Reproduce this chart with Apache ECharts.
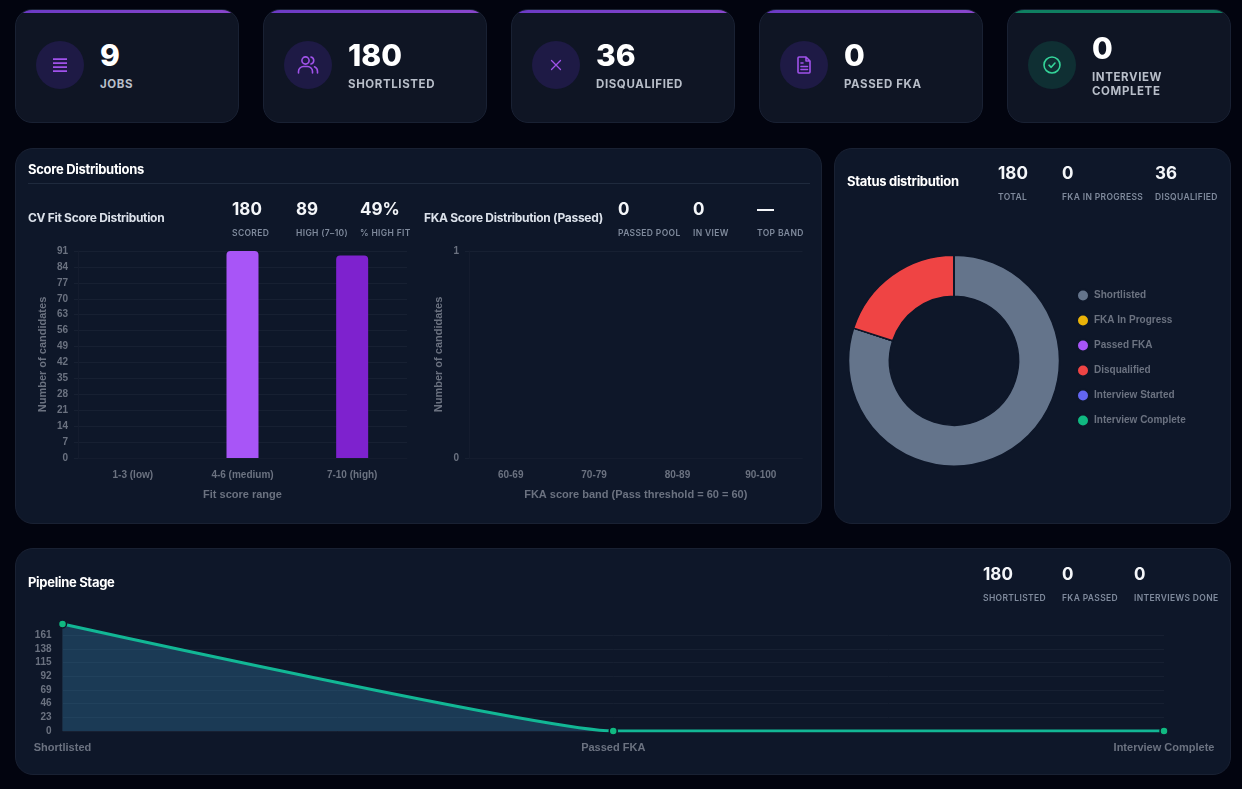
<!DOCTYPE html>
<html>
<head>
<meta charset="utf-8">
<title>Recruitment dashboard</title>
<script src="https://cdn.jsdelivr.net/npm/echarts@6/dist/echarts.min.js"></script>
<style>
  html, body { margin: 0; padding: 0; background: #02040f; }
  body { width: 1242px; height: 789px; position: relative; overflow: hidden; font-family: Inter, sans-serif; }
  .card, .panel { position: absolute; box-sizing: border-box; border: 1px solid #192133; }
  .card { top: 9px; width: 224px; height: 114px; border-radius: 17px; background: #0f1524; overflow: hidden; }
  .card .strip { position: absolute; left: 0; right: 0; top: 0; height: 3px; background: linear-gradient(90deg, #6a3ac4, #8a46cc); }
  .card.green .strip { background: #0f7f61; }
  .icon { position: absolute; left: 20px; top: 31px; width: 48px; height: 48px; border-radius: 50%; background: #1e1a45; display: flex; align-items: center; justify-content: center; }
  .card.green .icon { background: #0f2f33; }
  .value { position: absolute; left: 84px; top: 27px; font-size: 30px; font-weight: 800; line-height: 36px; color: #fff; }
  .name { position: absolute; left: 84px; top: 67px; width: 110px; font-size: 11.5px; font-weight: 700; line-height: 14px; letter-spacing: 0.6px; color: #b8bec9; }
  .card.wrap .value { top: 20px; }
  .card.wrap .name { top: 60px; }
  .panel { background: #0e1729; border-radius: 18px; }
  .title { position: absolute; font-weight: 700; font-size: 13px; letter-spacing: -0.3px; line-height: 16px; color: #fff; white-space: nowrap; }
  .title.sub { font-size: 12px; color: #dbe1ea; }
  .rule { position: absolute; left: 28px; top: 183px; width: 782px; height: 1px; background: #1f2a3d; }
  .stat { position: absolute; white-space: nowrap; }
  .stat b { position: absolute; left: 0; top: -9.5px; font-size: 17px; font-weight: 700; line-height: 20px; color: #f4f6f9; }
  .stat span { position: absolute; left: 0; top: 19px; font-size: 8.5px; font-weight: 600; line-height: 12px; letter-spacing: 0.35px; color: #7f8a9c; }
  #chart { position: absolute; left: 0; top: 0; width: 1242px; height: 789px; }
</style>
</head>
<body>
<div class="panel" style="left:15px;top:148px;width:807px;height:376px"></div>
<div class="panel" style="left:834px;top:148px;width:397px;height:376px"></div>
<div class="panel" style="left:15px;top:548px;width:1216px;height:227px"></div>
<div class="rule"></div>
<div id="chart"></div>
<script>
// Headline counters
const kpiValues = ['9', '180', '36', '0', '0'];
const kpiNames = ['JOBS', 'SHORTLISTED', 'DISQUALIFIED', 'PASSED FKA', 'INTERVIEW COMPLETE'];

// CV fit score bars
const fitRanges = ['1-3 (low)', '4-6 (medium)', '7-10 (high)'];
const fitCounts = [0, 91, 89];

// FKA score bars
const fkaBands = ['60-69', '70-79', '80-89', '90-100'];
const fkaCounts = [0, 0, 0, 0];

// Status donut
const statusNames = ['Shortlisted', 'FKA In Progress', 'Passed FKA', 'Disqualified', 'Interview Started', 'Interview Complete'];
const statusCounts = [144, 0, 0, 36, 0, 0];
const statusColors = ['#64748b', '#eab308', '#a855f7', '#ef4444', '#6366f1', '#10b981'];

// Pipeline stage line
const stageNames = ['Shortlisted', 'Passed FKA', 'Interview Complete'];
const stageCounts = [180, 0, 0];

// Small stat blocks: [left, top, value, label]
const statBlocks = [
  [232, 208, '180', 'SCORED'], [296, 208, '89', 'HIGH (7–10)'], [360, 208, '49%', '% HIGH FIT'],
  [618, 208, '0', 'PASSED POOL'], [693, 208, '0', 'IN VIEW'], [757, 208, '—', 'TOP BAND'],
  [998, 172, '180', 'TOTAL'], [1062, 172, '0', 'FKA IN PROGRESS'], [1155, 172, '36', 'DISQUALIFIED'],
  [983, 573, '180', 'SHORTLISTED'], [1062, 573, '0', 'FKA PASSED'], [1134, 573, '0', 'INTERVIEWS DONE']
];
// Panel headings: [left, centre y, text, extra class]
const headings = [
  [28, 169, 'Score Distributions', ''], [28, 218, 'CV Fit Score Distribution', 'sub'],
  [424, 218, 'FKA Score Distribution (Passed)', 'sub'], [847, 181, 'Status distribution', ''],
  [28, 582, 'Pipeline Stage', '']
];

const purple = '#a052ea', green = '#34d399';
const line = 'fill="none" stroke-width="1.6" stroke-linecap="round" stroke-linejoin="round"';
const kpiIcons = [
  `<svg width="20" height="20" viewBox="0 0 20 20"><path d="M3 4.2h14M3 8.2h14M3 12.2h14M3 16.2h14" stroke="${purple}" fill="none" stroke-width="1.7"/></svg>`,
  `<svg width="22" height="22" viewBox="0 0 22 22"><circle cx="8.5" cy="6.5" r="3.6" stroke="${purple}" ${line}/><path d="M1.5 19v-1.5a5 5 0 0 1 5-5h4a5 5 0 0 1 5 5V19M14 3a3.6 3.6 0 0 1 0 7M17.5 12.8a5 5 0 0 1 3 4.7V19" stroke="${purple}" ${line}/></svg>`,
  `<svg width="20" height="20" viewBox="0 0 20 20"><path d="M5.5 5.5l9 9M14.5 5.5l-9 9" stroke="${purple}" fill="none" stroke-width="1.3" stroke-linecap="round"/></svg>`,
  `<svg width="20" height="20" viewBox="0 0 20 20"><path d="M5 2h7l4 4v11a1 1 0 0 1-1 1H5a1 1 0 0 1-1-1V3a1 1 0 0 1 1-1zM12 2v4h4M7 8h2M7 11.5h6.5M7 14.5h6.5" stroke="${purple}" ${line}/></svg>`,
  `<svg width="20" height="20" viewBox="0 0 20 20"><circle cx="10" cy="10" r="8" stroke="${green}" ${line}/><path d="M7 10.2l2.2 2.1L13 8" stroke="${green}" ${line}/></svg>`
];

// Cards and texts around the charts
kpiValues.forEach((v, i) => {
  const el = document.createElement('div');
  el.className = 'card' + (i === 4 ? ' green wrap' : '');
  el.style.left = (15 + i * 248) + 'px';
  el.innerHTML = `<div class="strip"></div><div class="icon">${kpiIcons[i]}</div>
    <div class="value">${v}</div><div class="name">${kpiNames[i]}</div>`;
  document.body.appendChild(el);
});
statBlocks.forEach(([x, y, v, l]) => {
  const el = document.createElement('div');
  el.className = 'stat';
  el.style.left = x + 'px';
  el.style.top = y + 'px';
  el.innerHTML = `<b>${v}</b><span>${l}</span>`;
  document.body.appendChild(el);
});
headings.forEach(([x, y, t, c]) => {
  const el = document.createElement('div');
  el.className = 'title ' + c;
  el.style.left = x + 'px';
  el.style.top = (y - 8) + 'px';
  el.textContent = t;
  document.body.appendChild(el);
});

const font = 'Liberation Sans';
const tickText = { color: '#6b7280', fontFamily: font, fontSize: 10, fontWeight: 'bold' };
const gridLine = { show: true, lineStyle: { color: '#172032', width: 1 } };
const axisEdge = { show: true, lineStyle: { color: '#141c2e' } };
const nameText = { color: '#6b7280', fontFamily: font, fontSize: 11, fontWeight: 'bold' };

function categoryAxis(gridIndex, data, name) {
  return {
    type: 'category', gridIndex, data, name,
    nameLocation: 'middle', nameGap: 31, nameTextStyle: nameText,
    axisLine: axisEdge, axisTick: { show: false },
    axisLabel: { ...tickText, margin: 12 }, splitLine: { show: false }
  };
}
function valueAxis(gridIndex, max, interval, name, nameGap) {
  return {
    type: 'value', gridIndex, min: 0, max, interval, name,
    nameLocation: 'middle', nameGap, nameTextStyle: nameText,
    axisLine: axisEdge, axisTick: { show: true, length: 4, lineStyle: { color: '#172032' } },
    axisLabel: { ...tickText, margin: 10, padding: [2, 0, 0, 0] }, splitLine: gridLine
  };
}

const chart = echarts.init(document.getElementById('chart'), null, { renderer: 'canvas' });
chart.setOption({
  backgroundColor: 'transparent',
  animation: false,
  grid: [
    { left: 78, top: 251, width: 329, height: 207 },
    { left: 469, top: 251, width: 333.5, height: 207 },
    { left: 62.5, top: 624, width: 1101.5, height: 107 }
  ],
  xAxis: [
    categoryAxis(0, fitRanges, 'Fit score range'),
    categoryAxis(1, fkaBands, 'FKA score band (Pass threshold = 60 = 60)'),
    {
      type: 'category', gridIndex: 2, data: stageNames, boundaryGap: false,
      axisLine: { show: false }, axisTick: { show: false },
      axisLabel: { ...tickText, fontSize: 11, margin: 11 }, splitLine: { show: false }
    }
  ],
  yAxis: [
    valueAxis(0, 91, 7, 'Number of candidates', 30),
    valueAxis(1, 1, 1, 'Number of candidates', 25),
    {
      type: 'value', gridIndex: 2, min: 0, max: 180, interval: 23,
      axisLine: axisEdge, axisTick: { show: false },
      axisLabel: { ...tickText, margin: 11, padding: [2, 0, 0, 0], showMaxLabel: false },
      splitLine: { ...gridLine, showMaxLine: false }
    }
  ],
  legend: {
    orient: 'vertical', left: 1076, top: 288.5, padding: 0, icon: 'circle',
    itemWidth: 12, itemHeight: 15, itemGap: 11,
    textStyle: { color: '#6b7280', fontFamily: font, fontSize: 10, fontWeight: 'bold' },
    data: statusNames
  },
  series: [
    {
      type: 'bar', xAxisIndex: 0, yAxisIndex: 0, barWidth: 32,
      data: fitCounts.map((value, i) => ({
        value,
        itemStyle: { color: ['#ef4444', '#a855f7', '#7e22ce'][i], borderRadius: [4, 4, 0, 0] }
      }))
    },
    {
      type: 'bar', xAxisIndex: 1, yAxisIndex: 1, barWidth: 32,
      itemStyle: { color: '#a855f7' }, data: fkaCounts
    },
    {
      type: 'pie', center: [954, 360.7], radius: [64.5, 105.5], startAngle: 90,
      label: { show: false }, labelLine: { show: false }, silent: true,
      itemStyle: { borderColor: '#0e1729', borderWidth: 1.5 },
      data: statusNames.map((name, i) => ({ name, value: statusCounts[i], itemStyle: { color: statusColors[i] } }))
    },
    {
      type: 'line', xAxisIndex: 2, yAxisIndex: 2, data: stageCounts,
      smooth: 0.12, smoothMonotone: 'x',
      symbol: 'circle', symbolSize: 8, showSymbol: true,
      lineStyle: { color: '#12b795', width: 3 },
      itemStyle: { color: '#10b981', borderColor: '#0e1729', borderWidth: 1.5 },
      areaStyle: { color: 'rgba(60,150,200,0.4)' }
    }
  ]
});
</script>
</body>
</html>
